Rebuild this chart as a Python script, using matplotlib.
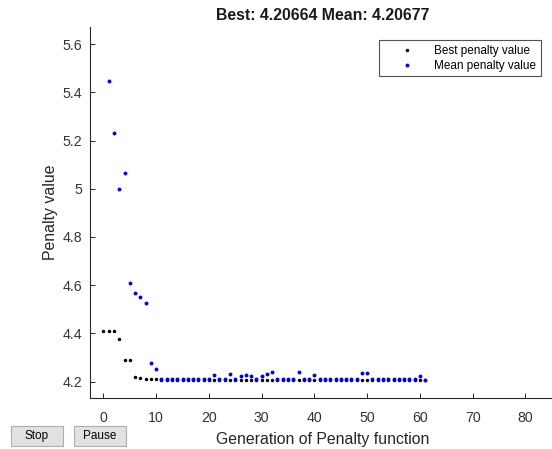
import numpy as np
import matplotlib
matplotlib.use('Agg')
import matplotlib.pyplot as plt
from matplotlib.patches import Rectangle

plt.rcParams['font.family'] = ['Liberation Sans', 'DejaVu Sans']

generations = list(range(0, 62))

best_values = [4.409, 4.409, 4.409, 4.378, 4.290, 4.290, 4.219, 4.215, 4.212, 4.210,
               4.209, 4.208,
               4.2075, 4.2075, 4.2075, 4.2075, 4.2075, 4.2075, 4.2075, 4.2075, 4.2075,
               4.2070, 4.2070, 4.2070, 4.2070, 4.2070, 4.2070, 4.2070, 4.2070, 4.2070, 4.2070,
               4.2070, 4.2070, 4.2070, 4.2070, 4.2070, 4.2070, 4.2070, 4.2070, 4.2070, 4.2070,
               4.2068, 4.2068, 4.2068, 4.2068, 4.2068, 4.2068, 4.2068, 4.2068, 4.2068, 4.2068,
               4.2068, 4.2068, 4.2068, 4.2068, 4.2068, 4.2068, 4.2068, 4.2068, 4.2068, 4.2068,
               4.20664]

mean_values = [np.nan, 5.446, 5.231, 4.998, 5.064, 4.610, 4.566, 4.551, 4.527, 4.279,
               4.254, 4.212, 4.210, 4.209, 4.209, 4.209, 4.209, 4.210, 4.209, 4.209,
               4.209, 4.226, 4.210, 4.211, 4.230, 4.210, 4.225, 4.228, 4.223, 4.210,
               4.223, 4.233, 4.240, 4.209, 4.209, 4.210, 4.209, 4.238, 4.211, 4.210,
               4.229, 4.209, 4.209, 4.209, 4.209, 4.210, 4.209, 4.209, 4.209, 4.235,
               4.235, 4.209, 4.209, 4.209, 4.209, 4.209, 4.209, 4.209, 4.209, 4.209,
               4.224, 4.20677]

x_ticks = [0, 10, 20, 30, 40, 50, 60, 70, 80]
y_ticks = [4.2, 4.4, 4.6, 4.8, 5.0, 5.2, 5.4, 5.6]
y_tick_labels = ['4.2', '4.4', '4.6', '4.8', '5', '5.2', '5.4', '5.6']

title_text = 'Best: 4.20664 Mean: 4.20677'
x_label = 'Generation of Penalty function'
y_label = 'Penalty value'
legend_labels = ['Best penalty value', 'Mean penalty value']

W, H = 552, 449
fig = plt.figure(figsize=(W / 100, H / 100), dpi=100)
fig.patch.set_facecolor('white')

ax_l, ax_r, ax_t, ax_b = 90, 555, 27, 397.5
ax = fig.add_axes([ax_l / W, (H - ax_b) / H, (ax_r - ax_l) / W, (ax_b - ax_t) / H])

ax.plot(generations, best_values, linestyle='none', marker='o', markersize=2.5,
        markeredgewidth=0, color='black', label=legend_labels[0])
ax.plot(generations, mean_values, linestyle='none', marker='o', markersize=2.8,
        markeredgewidth=0, color='blue', label=legend_labels[1])

ax.set_xlim(-2.54, 85.6)
ax.set_ylim(4.134, 5.671)
ax.set_xticks(x_ticks)
ax.set_yticks(y_ticks)
ax.set_yticklabels(y_tick_labels)

ax.spines['top'].set_visible(False)
ax.spines['right'].set_visible(False)
for s in ['left', 'bottom']:
    ax.spines[s].set_color('#262626')
    ax.spines[s].set_linewidth(0.8)

ax.tick_params(axis='both', direction='in', length=3.5, width=0.7, colors='#262626',
               labelsize=10.2, labelcolor='#333333')
ax.tick_params(axis='x', pad=9.5)
ax.tick_params(axis='y', pad=5.5)

ax.set_xlabel(x_label, fontsize=11.4, color='#262626', labelpad=5)
ax.set_ylabel(y_label, fontsize=11.4, color='#262626', labelpad=3.5)
ax.set_title(title_text, fontsize=11.4, fontweight='bold', color='#1a1a1a', pad=5)

leg = ax.legend(loc='upper right',
                bbox_to_anchor=((541 - ax_l) / (ax_r - ax_l), (ax_b - 40) / (ax_b - ax_t)),
                borderaxespad=0, fontsize=8.5, frameon=True, fancybox=False,
                numpoints=1, handlelength=4.0, handletextpad=0.3, borderpad=0.4,
                labelspacing=0.25, markerscale=1.0)
leg.get_frame().set_edgecolor('#262626')
leg.get_frame().set_linewidth(0.8)

# Stop / Pause buttons
for label, x0 in [('Stop', 11), ('Pause', 74)]:
    bw, bh, by = 52, 20, 426
    rect = Rectangle((x0 / W, (H - by - bh) / H), bw / W, bh / H,
                     transform=fig.transFigure, facecolor='#e1e1e1',
                     edgecolor='#adadad', linewidth=0.8)
    fig.patches.append(rect)
    fig.text((x0 + bw / 2) / W, (H - by - bh / 2) / H, label, ha='center', va='center',
             fontsize=8.5, color='black')

fig.savefig('out.png', dpi=100)
